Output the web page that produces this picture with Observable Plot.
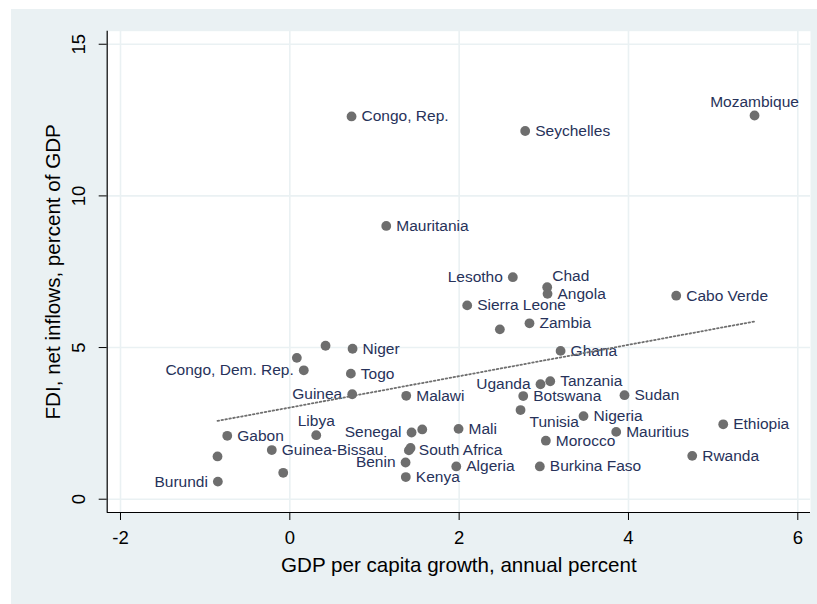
<!DOCTYPE html>
<html>
<head>
<meta charset="utf-8">
<script src="https://cdn.jsdelivr.net/npm/d3@7"></script>
<script src="https://cdn.jsdelivr.net/npm/@observablehq/plot@0.6"></script>
<style>
  html, body { margin: 0; padding: 0; background: #ffffff; }
  #chart { position: absolute; left: 11px; top: 9px; width: 806px; height: 595px; background: #eaf1f3; }
  #chart svg { display: block; }
</style>
</head>
<body>
<div id="chart"></div>
<script>
// ---- data ----
const countries = ["Mozambique","Congo, Rep.","Seychelles","Mauritania","Lesotho","Chad","Angola","Cabo Verde","Sierra Leone","Zambia","","Ghana","Uganda","Tanzania","Botswana","Sudan","Tunisia","Nigeria","Morocco","Mauritius","Ethiopia","Rwanda","Burkina Faso","Algeria","Mali","Kenya","Benin","South Africa","","Senegal","","Malawi","Guinea","Togo","Niger","","","Congo, Dem. Rep.","Libya","Gabon","Guinea-Bissau","","","Burundi"];
const gdpGrowth = [5.489,0.729,2.780,1.139,2.634,3.040,3.044,4.564,2.095,2.831,2.481,3.198,2.961,3.076,2.757,3.953,2.725,3.469,3.024,3.855,5.119,4.753,2.953,1.966,1.993,1.370,1.367,1.406,1.426,1.438,1.564,1.375,0.737,0.721,0.741,0.422,0.083,0.165,0.312,-0.739,-0.213,-0.854,-0.078,-0.850];
const fdiInflows = [12.65,12.62,12.14,9.01,7.32,6.99,6.77,6.71,6.39,5.80,5.60,4.89,3.79,3.89,3.40,3.43,2.94,2.74,1.93,2.22,2.47,1.43,1.08,1.08,2.32,0.73,1.21,1.61,1.69,2.20,2.30,3.41,3.46,4.14,4.96,5.06,4.66,4.25,2.11,2.09,1.62,1.41,0.87,0.58];
// marker-label clock positions (Stata style); default is 3 o'clock
const labelClock = {"Mozambique":12,"Libya":12,"Chad":1,"Tunisia":4,"Lesotho":9,"Uganda":9,"Benin":9,"Senegal":9,"Guinea":9,"Congo, Dem. Rep.":9,"Burundi":9};
const xTicks = [-2,0,2,4,6];
const yTicks = [0,5,10,15];
const xTitle = "GDP per capita growth, annual percent";
const yTitle = "FDI, net inflows, percent of GDP";

const rows = countries.map((c, i) => ({country: c, x: gdpGrowth[i], y: fdiInflows[i], clock: labelClock[c] ?? 3}));

const xDomain = [-2.157, 6.150];
const yDomain = [-0.438, 15.43];

const bg = "#eaf1f3";
const labelColor = "#27325a";
const dotColor = "#6e6e6e";
const hyphenFormat = d => (d < 0 ? "-" + Math.abs(d) : String(d));

const placement = {
  3:  {dx: 10, dy: 0, textAnchor: "start", lineAnchor: "middle"},
  9:  {dx: -10, dy: 0, textAnchor: "end", lineAnchor: "middle"},
  12: {dx: 0, dy: -9, textAnchor: "middle", lineAnchor: "bottom"},
  1:  {dx: 5, dy: -6, textAnchor: "start", lineAnchor: "bottom"},
  4:  {dx: 9, dy: 6, textAnchor: "start", lineAnchor: "top"}
};

const labelMarks = Object.keys(placement).map(k => Plot.text(rows.filter(d => d.country && d.clock === +k), {
  x: "x", y: "y", text: "country",
  fill: labelColor, fontSize: 15.5,
  ...placement[k]
}));

const chart = Plot.plot({
  width: 806,
  height: 595,
  marginLeft: 95.7,
  marginRight: 7,
  marginTop: 21.7,
  marginBottom: 92,
  style: {background: "transparent", fontFamily: "'Liberation Sans', Arial, Helvetica, sans-serif", color: "#000"},
  x: {domain: xDomain, label: null},
  y: {domain: yDomain, label: null},
  marks: [
    Plot.frame({fill: "white", stroke: null}),
    Plot.gridX(xTicks, {stroke: bg, strokeOpacity: 1, strokeWidth: 1.6}),
    Plot.gridY(yTicks, {stroke: bg, strokeOpacity: 1, strokeWidth: 1.6}),
    Plot.axisX(xTicks, {tickSize: 8, tickPadding: 10, fontSize: 18.5, stroke: "#000", fill: "#000", label: null, tickFormat: hyphenFormat}),
    Plot.axisY(yTicks, {tickSize: 8, tickPadding: 14, tickRotate: -90, fontSize: 18.5, stroke: "#000", fill: "#000", label: null, tickFormat: hyphenFormat}),
    Plot.ruleX([xDomain[0]], {stroke: "#000", strokeWidth: 1.2}),
    Plot.ruleY([yDomain[0]], {stroke: "#000", strokeWidth: 1.2}),
    Plot.dot(rows, {x: "x", y: "y", r: 4.9, fill: dotColor, stroke: null}),
    ...labelMarks,
    Plot.linearRegressionY(rows, {x: "x", y: "y", ci: 0, stroke: "#6f6f6f", strokeWidth: 1.8, strokeDasharray: "1.6,2.4"}),
    Plot.text([xTitle], {frameAnchor: "bottom", dy: 59.7, lineAnchor: "bottom", fontSize: 20.6, fill: "#000"}),
    Plot.text([yTitle], {frameAnchor: "left", dx: -46.7, rotate: -90, textAnchor: "middle", lineAnchor: "bottom", fontSize: 20.6, fill: "#000"})
  ]
});

document.getElementById("chart").appendChild(chart);
</script>
</body>
</html>
